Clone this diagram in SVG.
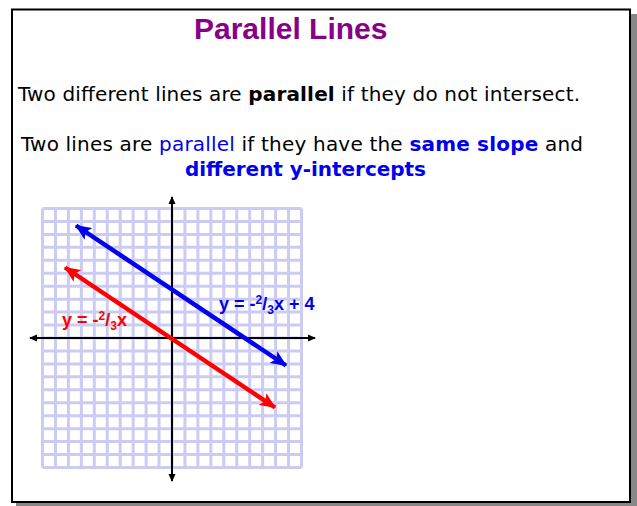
<svg xmlns="http://www.w3.org/2000/svg" width="637" height="506" viewBox="0 0 637 506">
<defs>
<style>
.t{font-family:"DejaVu Sans",Verdana,sans-serif;font-size:20px;fill:#000}
.b{font-weight:bold}
.blue{fill:#0000ee}
.title{font-family:"Liberation Sans",Arial,sans-serif;font-size:30px;font-weight:bold;fill:#880088}
.lbl{font-family:"Liberation Sans",Arial,sans-serif;font-size:18px;font-weight:bold}
.grid line{stroke:#cbcbf4;stroke-width:3}
.axis{stroke:#000;stroke-width:2;fill:none}
</style>
<marker id="ax" viewBox="0 0 8 8" refX="7" refY="4" markerWidth="8" markerHeight="8" markerUnits="userSpaceOnUse" orient="auto-start-reverse"><path d="M0,0.5 L8,4 L0,7.5 z" fill="#000"/></marker>
<marker id="ab" viewBox="0 0 16 14" refX="15" refY="7" markerWidth="16" markerHeight="14" markerUnits="userSpaceOnUse" orient="auto-start-reverse"><path d="M0,0 L16,7 L0,14 L3.5,7 z" fill="#0000ee"/></marker>
<marker id="ar" viewBox="0 0 16 14" refX="15" refY="7" markerWidth="16" markerHeight="14" markerUnits="userSpaceOnUse" orient="auto-start-reverse"><path d="M0,0 L16,7 L0,14 L3.5,7 z" fill="#ff0000"/></marker>
</defs>
<rect x="16" y="14" width="621" height="492" fill="#888"/>
<rect x="12" y="9.5" width="618" height="492.5" fill="#fff" stroke="#000" stroke-width="2"/>
<g id="title"><text class="title" x="194" y="39">Parallel Lines</text></g>
<g id="text1"><text class="t" x="18" y="101" textLength="562" lengthAdjust="spacing">Two different lines are <tspan class="b">parallel</tspan> if they do not intersect.</text></g>
<g id="text2"><text class="t" x="21" y="151" textLength="562" lengthAdjust="spacing">Two lines are <tspan class="blue">parallel</tspan> if they have the <tspan class="b blue">same slope</tspan> and</text>
<text class="t b blue" x="185" y="176" textLength="241" lengthAdjust="spacing">different y-intercepts</text></g>
<g id="grid" class="grid">
<line x1="42.5" y1="208.5" x2="42.5" y2="467.5"/><line x1="55.45" y1="208.5" x2="55.45" y2="467.5"/><line x1="68.4" y1="208.5" x2="68.4" y2="467.5"/><line x1="81.35" y1="208.5" x2="81.35" y2="467.5"/><line x1="94.3" y1="208.5" x2="94.3" y2="467.5"/><line x1="107.25" y1="208.5" x2="107.25" y2="467.5"/><line x1="120.2" y1="208.5" x2="120.2" y2="467.5"/><line x1="133.15" y1="208.5" x2="133.15" y2="467.5"/><line x1="146.1" y1="208.5" x2="146.1" y2="467.5"/><line x1="159.05" y1="208.5" x2="159.05" y2="467.5"/><line x1="172" y1="208.5" x2="172" y2="467.5"/><line x1="184.95" y1="208.5" x2="184.95" y2="467.5"/><line x1="197.9" y1="208.5" x2="197.9" y2="467.5"/><line x1="210.85" y1="208.5" x2="210.85" y2="467.5"/><line x1="223.8" y1="208.5" x2="223.8" y2="467.5"/><line x1="236.75" y1="208.5" x2="236.75" y2="467.5"/><line x1="249.7" y1="208.5" x2="249.7" y2="467.5"/><line x1="262.65" y1="208.5" x2="262.65" y2="467.5"/><line x1="275.6" y1="208.5" x2="275.6" y2="467.5"/><line x1="288.55" y1="208.5" x2="288.55" y2="467.5"/><line x1="301.5" y1="208.5" x2="301.5" y2="467.5"/>
<line y1="208.5" x1="42.5" y2="208.5" x2="301.5"/><line y1="221.45" x1="42.5" y2="221.45" x2="301.5"/><line y1="234.4" x1="42.5" y2="234.4" x2="301.5"/><line y1="247.35" x1="42.5" y2="247.35" x2="301.5"/><line y1="260.3" x1="42.5" y2="260.3" x2="301.5"/><line y1="273.25" x1="42.5" y2="273.25" x2="301.5"/><line y1="286.2" x1="42.5" y2="286.2" x2="301.5"/><line y1="299.15" x1="42.5" y2="299.15" x2="301.5"/><line y1="312.1" x1="42.5" y2="312.1" x2="301.5"/><line y1="325.05" x1="42.5" y2="325.05" x2="301.5"/><line y1="338" x1="42.5" y2="338" x2="301.5"/><line y1="350.95" x1="42.5" y2="350.95" x2="301.5"/><line y1="363.9" x1="42.5" y2="363.9" x2="301.5"/><line y1="376.85" x1="42.5" y2="376.85" x2="301.5"/><line y1="389.8" x1="42.5" y2="389.8" x2="301.5"/><line y1="402.75" x1="42.5" y2="402.75" x2="301.5"/><line y1="415.7" x1="42.5" y2="415.7" x2="301.5"/><line y1="428.65" x1="42.5" y2="428.65" x2="301.5"/><line y1="441.6" x1="42.5" y2="441.6" x2="301.5"/><line y1="454.55" x1="42.5" y2="454.55" x2="301.5"/><line y1="467.5" x1="42.5" y2="467.5" x2="301.5"/>
</g>
<g id="connectors">
<line class="axis" x1="30" y1="338" x2="315" y2="338" marker-start="url(#ax)" marker-end="url(#ax)"/>
<line class="axis" x1="172" y1="197" x2="172" y2="481" marker-start="url(#ax)" marker-end="url(#ax)"/>
<line x1="76" y1="225.5" x2="286" y2="365.5" stroke="#0000ee" stroke-width="4.5" marker-start="url(#ab)" marker-end="url(#ab)"/>
<line x1="65" y1="267.5" x2="275" y2="407.5" stroke="#ff0000" stroke-width="4.5" marker-start="url(#ar)" marker-end="url(#ar)"/>
</g>
<g id="label-red"><text class="lbl" x="62" y="326" fill="#ff0000">y = -<tspan font-size="12" dy="-6">2</tspan><tspan dy="6">/</tspan><tspan font-size="12" dy="4">3</tspan><tspan dy="-4">x</tspan></text></g>
<g id="label-blue"><text class="lbl" x="219" y="310" fill="#0000ee">y = -<tspan font-size="12" dy="-6">2</tspan><tspan dy="6">/</tspan><tspan font-size="12" dy="4">3</tspan><tspan dy="-4">x + 4</tspan></text></g>
</svg>
